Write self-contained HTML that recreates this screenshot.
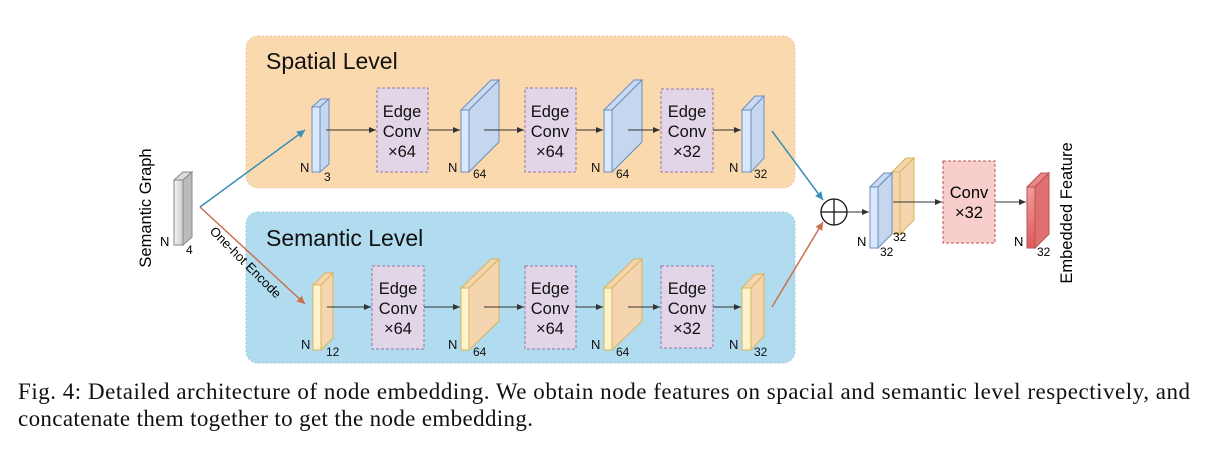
<!DOCTYPE html>
<html><head><meta charset="utf-8"><style>
html,body{margin:0;padding:0;background:#fff;}
svg{display:block;}
</style></head><body>
<svg width="1208" height="458" viewBox="0 0 1208 458" xmlns="http://www.w3.org/2000/svg" font-family="Liberation Sans, Helvetica, sans-serif">
<defs>
<marker id="ah" markerWidth="8" markerHeight="8" refX="7" refY="4" orient="auto" markerUnits="userSpaceOnUse"><path d="M0,1 L7,4 L0,7 Z" fill="#333"/></marker>
<marker id="ab" markerWidth="10" markerHeight="10" refX="8" refY="5" orient="auto" markerUnits="userSpaceOnUse"><path d="M0,1 L8,5 L0,9 Z" fill="#3a8fb7"/></marker>
<marker id="ao" markerWidth="10" markerHeight="10" refX="8" refY="5" orient="auto" markerUnits="userSpaceOnUse"><path d="M0,1 L8,5 L0,9 Z" fill="#c9704f"/></marker>
<linearGradient id="gr" x1="0" y1="0" x2="1" y2="0"><stop offset="0" stop-color="#f4f4f4"/><stop offset="1" stop-color="#cccccc"/></linearGradient>
<linearGradient id="rd" x1="0" y1="0" x2="0" y2="1"><stop offset="0" stop-color="#f19c9c"/><stop offset="1" stop-color="#e05a5a"/></linearGradient>
</defs>

<rect x="246" y="36" width="549" height="152" rx="12" fill="#fad9ae" stroke="#e8c9a0" stroke-width="1" stroke-dasharray="2,2"/>
<rect x="246" y="212" width="549" height="151" rx="12" fill="#b1dcef" stroke="#9cc9dd" stroke-width="1" stroke-dasharray="2,2"/>
<text x="266" y="69" font-size="23" fill="#111">Spatial Level</text>
<text x="266" y="246" font-size="23" fill="#111">Semantic Level</text>

<g stroke="#888" stroke-width="1">
<polygon points="174,180 183,172 192,172 183,180" fill="#ddd"/>
<polygon points="183,180 192,172 192,237 183,245" fill="#bbb"/>
<rect x="174" y="180" width="9" height="65" fill="url(#gr)"/>
</g>
<text x="160" y="246" font-size="13">N</text><text x="186" y="254" font-size="12">4</text>
<text transform="translate(151,208) rotate(-90)" text-anchor="middle" font-size="16.5">Semantic Graph</text>

<line x1="200" y1="207" x2="305" y2="130" stroke="#3a8fb7" stroke-width="1.5" marker-end="url(#ab)"/>
<line x1="200" y1="207" x2="305" y2="304" stroke="#c9704f" stroke-width="1.5" marker-end="url(#ao)"/>
<text transform="translate(209,232) rotate(45)" font-size="13">One-hot Encode</text>

<g stroke="#6c8ebf" stroke-width="1">
<polygon points="312,107 321,99 329,99 320,107" fill="#c9daf2"/><polygon points="320,107 329,99 329,164 320,172" fill="#c5d6ef"/><rect x="312" y="107" width="8" height="65" fill="#dae8fc"/>
<polygon points="461,110 491,80 499,80 469,110" fill="#c9daf2"/><polygon points="469,110 499,80 499,142 469,172" fill="#c5d6ef"/><rect x="461" y="110" width="8" height="62" fill="#dae8fc"/>
<polygon points="604,110 634,80 642,80 612,110" fill="#c9daf2"/><polygon points="612,110 642,80 642,142 612,172" fill="#c5d6ef"/><rect x="604" y="110" width="8" height="62" fill="#dae8fc"/>
<polygon points="742,110 755,96 764,96 751,110" fill="#c9daf2"/><polygon points="751,110 764,96 764,158 751,172" fill="#c5d6ef"/><rect x="742" y="110" width="9" height="62" fill="#dae8fc"/>
</g>
<g stroke="#d6b656" stroke-width="1">
<polygon points="313,285 325,273 333,273 321,285" fill="#f5d5b0"/><polygon points="321,285 333,273 333,338 321,350" fill="#f5d5b0"/><rect x="313" y="285" width="8" height="65" fill="#fff2cc"/>
<polygon points="461,288 491,259 499,259 469,288" fill="#f5d5b0"/><polygon points="469,288 499,259 499,321 469,350" fill="#f5d5b0"/><rect x="461" y="288" width="8" height="62" fill="#fff2cc"/>
<polygon points="604,288 634,259 642,259 612,288" fill="#f5d5b0"/><polygon points="612,288 642,259 642,321 612,350" fill="#f5d5b0"/><rect x="604" y="288" width="8" height="62" fill="#fff2cc"/>
<polygon points="742,288 755,274 764,274 751,288" fill="#f5d5b0"/><polygon points="751,288 764,274 764,336 751,350" fill="#f5d5b0"/><rect x="742" y="288" width="9" height="62" fill="#fff2cc"/>
</g>

<g fill="#e1d5e7" stroke="#9673a6" stroke-width="1" stroke-dasharray="3,2">
<rect x="377" y="88" width="51" height="84"/><rect x="525" y="88" width="51" height="84"/><rect x="661" y="89" width="52" height="83"/>
<rect x="372" y="266" width="52" height="83"/><rect x="525" y="266" width="51" height="83"/><rect x="661" y="266" width="52" height="82"/>
</g>
<g font-size="16.5" text-anchor="middle" fill="#111">
<text x="402" y="117">Edge</text><text x="402" y="137">Conv</text><text x="402" y="157">×64</text>
<text x="550" y="117">Edge</text><text x="550" y="137">Conv</text><text x="550" y="157">×64</text>
<text x="687" y="117">Edge</text><text x="687" y="137">Conv</text><text x="687" y="157">×32</text>
<text x="398" y="294">Edge</text><text x="398" y="314">Conv</text><text x="398" y="334">×64</text>
<text x="550" y="294">Edge</text><text x="550" y="314">Conv</text><text x="550" y="334">×64</text>
<text x="687" y="294">Edge</text><text x="687" y="314">Conv</text><text x="687" y="334">×32</text>
</g>

<g stroke="#333" stroke-width="1" marker-end="url(#ah)">
<line x1="326" y1="130" x2="376" y2="130"/><line x1="428" y1="130" x2="460" y2="130"/>
<line x1="484" y1="130" x2="524" y2="130"/><line x1="576" y1="130" x2="603" y2="130"/>
<line x1="628" y1="130" x2="660" y2="130"/><line x1="713" y1="130" x2="741" y2="130"/>
<line x1="327" y1="307" x2="371" y2="307"/><line x1="424" y1="307" x2="460" y2="307"/>
<line x1="484" y1="307" x2="524" y2="307"/><line x1="576" y1="307" x2="603" y2="307"/>
<line x1="628" y1="307" x2="660" y2="307"/><line x1="713" y1="307" x2="741" y2="307"/>
</g>

<g font-size="13" fill="#111">
<text x="300" y="172">N</text><text x="324" y="181" font-size="12">3</text>
<text x="448" y="172">N</text><text x="473" y="178" font-size="12">64</text>
<text x="591" y="172">N</text><text x="616" y="178" font-size="12">64</text>
<text x="729" y="172">N</text><text x="754" y="178" font-size="12">32</text>
<text x="301" y="349">N</text><text x="326" y="356" font-size="12">12</text>
<text x="448" y="349">N</text><text x="473" y="356" font-size="12">64</text>
<text x="591" y="349">N</text><text x="616" y="356" font-size="12">64</text>
<text x="729" y="349">N</text><text x="754" y="356" font-size="12">32</text>
</g>

<line x1="772" y1="131" x2="823" y2="200" stroke="#3a8fb7" stroke-width="1.5" marker-end="url(#ab)"/>
<line x1="772" y1="307" x2="823" y2="222" stroke="#c9704f" stroke-width="1.5" marker-end="url(#ao)"/>
<circle cx="834" cy="212" r="13" fill="#fff" stroke="#111" stroke-width="1.3"/>
<line x1="821" y1="212" x2="847" y2="212" stroke="#111" stroke-width="1.3"/>
<line x1="834" y1="199" x2="834" y2="225" stroke="#111" stroke-width="1.3"/>
<line x1="847" y1="212" x2="869" y2="212" stroke="#333" stroke-width="1" marker-end="url(#ah)"/>

<g stroke="#d6b656" stroke-width="1">
<polygon points="892,172 906,158 914,158 900,172" fill="#f5d5b0"/><polygon points="900,172 914,158 914,220 900,234" fill="#f5d5b0"/><rect x="892" y="172" width="8" height="62" fill="#f5d5b0"/>
</g>
<g stroke="#6c8ebf" stroke-width="1">
<polygon points="870,187 884,173 892,173 878,187" fill="#c9daf2"/><polygon points="878,187 892,173 892,234 878,248" fill="#c5d6ef"/><rect x="870" y="187" width="8" height="61" fill="#dae8fc"/>
</g>
<text x="857" y="246" font-size="13">N</text><text x="880" y="256" font-size="12">32</text><text x="893" y="241" font-size="12">32</text>
<line x1="893" y1="202" x2="942" y2="202" stroke="#333" stroke-width="1" marker-end="url(#ah)"/>
<rect x="943" y="161" width="52" height="82" fill="#f8cecc" stroke="#b85450" stroke-dasharray="3,2"/>
<text x="969" y="198" font-size="16.5" text-anchor="middle">Conv</text><text x="969" y="218" font-size="16.5" text-anchor="middle">×32</text>
<line x1="995" y1="202" x2="1026" y2="202" stroke="#333" stroke-width="1" marker-end="url(#ah)"/>
<g stroke="#b85450" stroke-width="1">
<polygon points="1027,187 1041,173 1049,173 1035,187" fill="#e98686"/><polygon points="1035,187 1049,173 1049,234 1035,248" fill="#e06f6f"/><rect x="1027" y="187" width="8" height="61" fill="url(#rd)"/>
</g>
<text x="1014" y="246" font-size="13">N</text><text x="1037" y="256" font-size="12">32</text>
<text transform="translate(1072,213) rotate(-90)" text-anchor="middle" font-size="16.5">Embedded Feature</text>

<g font-family="Liberation Serif, Times New Roman, serif" font-size="23" fill="#111">
<text x="18" y="399" textLength="1172" lengthAdjust="spacing">Fig. 4: Detailed architecture of node embedding. We obtain node features on spacial and semantic level respectively, and</text>
<text x="18" y="426" textLength="515" lengthAdjust="spacing">concatenate them together to get the node embedding.</text>
</g>
</svg>
</body></html>
